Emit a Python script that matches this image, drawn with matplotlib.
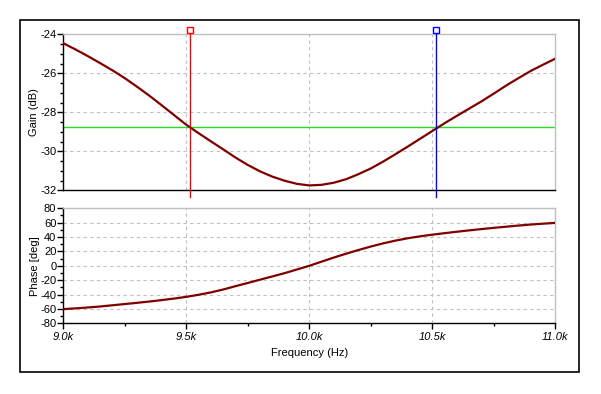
import numpy as np
import matplotlib
matplotlib.use('Agg')
import matplotlib.pyplot as plt
from matplotlib.patches import Rectangle
from matplotlib.ticker import MultipleLocator, FuncFormatter
import matplotlib.transforms as mtransforms

plt.rcParams['font.family'] = ['Liberation Sans', 'DejaVu Sans']
plt.rcParams['axes.unicode_minus'] = False

# frequency response (every 50 Hz)
freq = [9000, 9050, 9100, 9150, 9200, 9250, 9300, 9350, 9400, 9450,
        9500, 9550, 9600, 9650, 9700, 9750, 9800, 9850, 9900, 9950,
        10000, 10050, 10100, 10150, 10200, 10250, 10300, 10350, 10400, 10450,
        10500, 10550, 10600, 10650, 10700, 10750, 10800, 10850, 10900, 10950, 11000]
gain_db = [-24.46, -24.78, -25.12, -25.48, -25.85, -26.25, -26.69, -27.15, -27.64, -28.14,
           -28.64, -29.07, -29.49, -29.90, -30.32, -30.70, -31.03, -31.30, -31.51, -31.67,
           -31.75, -31.72, -31.61, -31.43, -31.17, -30.88, -30.53, -30.15, -29.76, -29.36,
           -28.96, -28.56, -28.18, -27.81, -27.44, -27.04, -26.63, -26.25, -25.88, -25.56, -25.25]
phase_deg = [-60.3, -59.2, -58.0, -56.6, -54.9, -53.2, -51.5, -49.7, -47.7, -45.6,
             -43.2, -40.3, -37.0, -33.0, -28.3, -23.9, -19.3, -14.8, -10.2, -5.1,
             0.0, 5.8, 11.5, 16.9, 22.0, 26.8, 31.2, 35.0, 38.3, 41.0,
             43.3, 45.4, 47.4, 49.3, 51.1, 52.8, 54.4, 56.0, 57.4, 58.6, 59.7]

# cursors
cursor_a = 9516
cursor_b = 10517
cursor_level = -28.77

x_ticks = [9000, 9500, 10000, 10500, 11000]

curve_col = '#800000'
grid_col = '#c0c0c0'

fig = plt.figure(figsize=(6.01, 3.94), dpi=100)
fig.patches.append(Rectangle((20/601, 1 - 372/394), 559/601, 352/394,
                             transform=fig.transFigure, fill=False,
                             edgecolor='black', lw=1.2))

ax1 = fig.add_axes([63.3/601, 1 - 190.3/394, 492/601, 156/394])
ax2 = fig.add_axes([63.3/601, 1 - 323.3/394, 492/601, 115/394])


def style(ax):
    for s in ['top', 'right']:
        ax.spines[s].set_color(grid_col)
        ax.spines[s].set_linewidth(1)
    for s in ['left', 'bottom']:
        ax.spines[s].set_color('black')
        ax.spines[s].set_linewidth(1)
    ax.set_xlim(9000, 11000)
    ax.set_xticks(x_ticks)
    ax.xaxis.set_minor_locator(MultipleLocator(250))
    ax.tick_params(axis='both', which='major', direction='out', length=4, width=1,
                   labelsize=8, pad=1)
    ax.tick_params(axis='both', which='minor', direction='out', length=2, width=1)
    ax.grid(True, which='major', color=grid_col, ls=(0, (3, 3)), lw=0.8)
    ax.set_axisbelow(True)


style(ax1)
style(ax2)

# gain panel
ax1.plot(freq, gain_db, color=curve_col, lw=1.6, zorder=3)
ax1.set_ylim(-32, -24)
ax1.yaxis.set_major_locator(MultipleLocator(2))
ax1.yaxis.set_minor_locator(MultipleLocator(0.5))
ax1.tick_params(axis='x', which='both', length=0, labelbottom=False)
ax1.set_ylabel('Gain (dB)', fontsize=8, labelpad=0.5)

ax1.axhline(cursor_level, color='#22dd22', lw=1, zorder=2)
trans = mtransforms.blended_transform_factory(ax1.transData, ax1.transAxes)
for c, col in [(cursor_a, '#ff0000'), (cursor_b, '#0000ff')]:
    ax1.plot([c, c], [-0.04, 1.025], color=col, lw=1, transform=trans,
             clip_on=False, zorder=4)
    ax1.plot([c], [1.025], marker='s', ms=4, mfc='white', mec=col, mew=1,
             transform=trans, clip_on=False, zorder=5)

# phase panel
ax2.plot(freq, phase_deg, color=curve_col, lw=1.6, zorder=3)
ax2.set_ylim(-80, 80)
ax2.yaxis.set_major_locator(MultipleLocator(20))
ax2.yaxis.set_minor_locator(MultipleLocator(10))
ax2.xaxis.set_major_formatter(FuncFormatter(lambda v, p: '%.1fk' % (v / 1000)))
for lab in ax2.get_xticklabels():
    lab.set_fontstyle('italic')
ax2.tick_params(axis='x', pad=2.5)
ax2.set_ylabel('Phase [deg]', fontsize=8, labelpad=0.5)
ax2.set_xlabel('Frequency (Hz)', fontsize=8, labelpad=4)

fig.savefig('out.png', dpi=100)
